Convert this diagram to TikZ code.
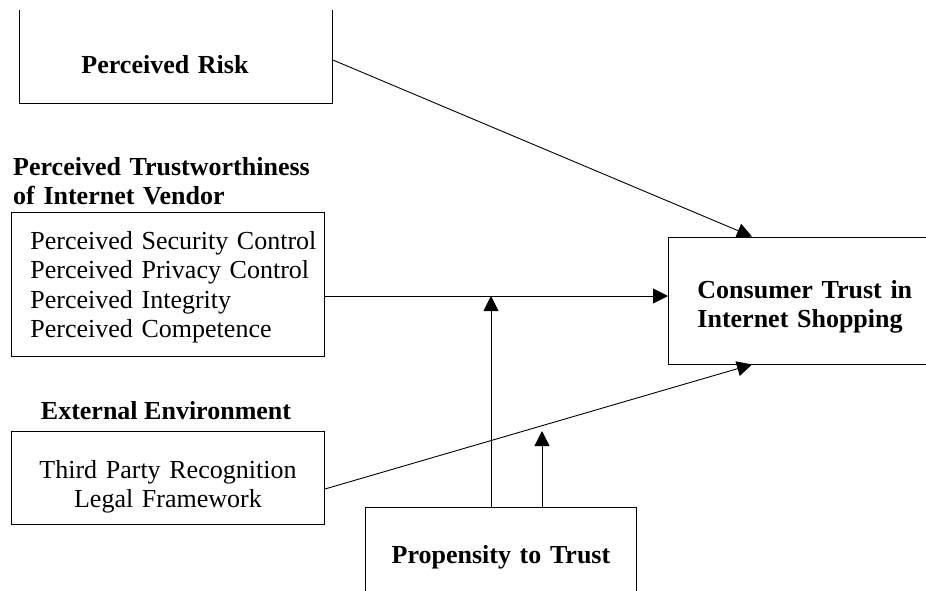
\documentclass[tikz,border=0pt]{standalone}
\usepackage{fontspec}
\setmainfont{Liberation Serif}
\usepackage{tikz}
\usetikzlibrary{arrows.meta,positioning}
\newcommand{\bigtxt}{\fontsize{26pt}{29.5pt}\selectfont}

\begin{document}
\begin{tikzpicture}[x=1pt,y=-1pt,
  box/.style={draw,line width=0.9pt,inner sep=0pt,anchor=base west},
  head/.style={font=\bigtxt\bfseries,inner sep=0pt},
  arr/.style={line width=0.9pt,-{Triangle[length=15pt,width=15pt]}}]
  \useasboundingbox (0,0) rectangle (926,590);
  \clip (0,10) rectangle (926,590);
  \node[box,font=\bigtxt\bfseries,text width=313pt,align=left,text height=68pt,text depth=30pt] (risk) at (19,73) {\leftskip=62pt Perceived Risk\par};
  \node[head,anchor=base west,text width=330pt,align=left] (twhead) at (13,175) {Perceived Trustworthiness\\of Internet Vendor};
  \node[box,font=\bigtxt,text width=313pt,align=left,text height=37pt,text depth=107pt] (tw) at (11,249) {\leftskip=19pt Perceived Security Control\\Perceived Privacy Control\\Perceived Integrity\\Perceived Competence\par};
  \node[head,anchor=base] (envhead) at (166,419) {External Environment};
  \node[box,font=\bigtxt,text width=313pt,align=center,text height=47pt,text depth=46pt] (env) at (11,478) {Third Party Recognition\\Legal Framework};
  \node[box,font=\bigtxt\bfseries,text width=272pt,align=left,text height=61pt,text depth=66pt] (cons) at (668,298) {\leftskip=29pt Consumer Trust in\\Internet Shopping\par};
  \node[box,font=\bigtxt\bfseries,text width=271pt,align=center,text height=56pt,text depth=44pt] (prop) at (365,563) {Propensity to Trust};
  \coordinate (hub) at (491,296);
  \coordinate (modtip) at (542,431);
  \draw[arr] ([yshift=-6pt]risk.east) -- ([xshift=84pt]cons.north west);
  \draw[arr] (tw.east |- hub) -- (cons.west |- hub);
  \draw[arr] ([yshift=-11.5pt]env.east) -- ([xshift=84pt]cons.south west);
  \draw[arr] (prop.north -| hub) -- (hub);
  \draw[arr] (prop.north -| modtip) -- (modtip);
\end{tikzpicture}
\end{document}
